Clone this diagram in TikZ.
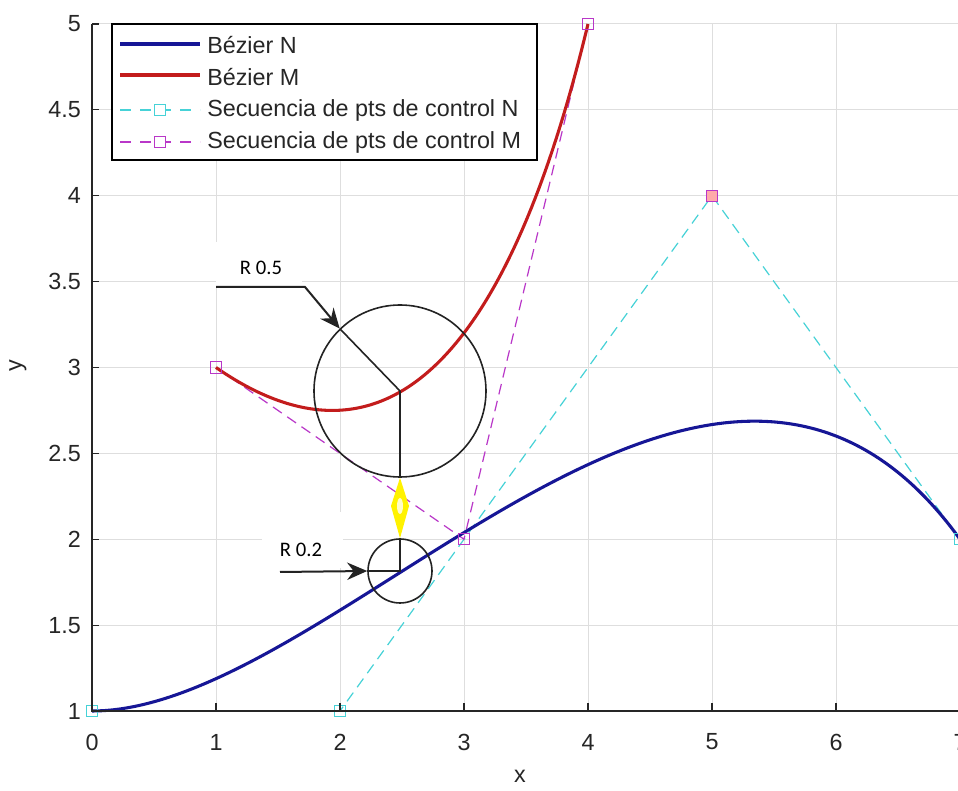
\documentclass[tikz,border=0pt]{standalone}
\usepackage{fontspec}
\setmainfont{Liberation Sans}
\newfontfamily\calib{Carlito}
\usetikzlibrary{arrows.meta}
\definecolor{axgray}{RGB}{38,38,38}
\definecolor{gridgray}{RGB}{222,222,222}
\definecolor{curveN}{RGB}{22,22,150}
\definecolor{curveM}{RGB}{195,28,28}
\definecolor{ctrlN}{RGB}{70,210,215}
\definecolor{ctrlM}{RGB}{185,55,200}
\definecolor{annot}{RGB}{35,35,35}
\tikzset{
  gridline/.style={gridgray, line width=0.75pt},
  ticklab/.style={text=axgray, font=\fontsize{17.5}{20}\selectfont, inner sep=0pt},
  legtext/.style={text=axgray, font=\fontsize{17.5}{20}\selectfont, anchor=west, inner sep=0pt},
  ctrlNline/.style={ctrlN, line width=0.9pt, dash pattern=on 8pt off 5pt},
  ctrlMline/.style={ctrlM, line width=0.9pt, dash pattern=on 8pt off 5pt},
  sqN/.style={draw=ctrlN, line width=0.8pt, minimum size=8.5pt, inner sep=0pt, rectangle},
  sqM/.style={draw=ctrlM, line width=0.8pt, minimum size=8.5pt, inner sep=0pt, rectangle},
  bezN/.style={curveN, line width=2.3pt},
  bezM/.style={curveM, line width=2.3pt},
  annline/.style={annot, line width=1.2pt},
  anncirc/.style={circle, draw=annot, line width=1.2pt, inner sep=0pt},
  annarrow/.style={annot, line width=1.5pt, -{Stealth[length=15pt,width=13pt]}},
  rlab/.style={font=\calib\fontsize{15.5}{18}\selectfont, inner sep=0pt, text=black},
}
\begin{document}
\begin{tikzpicture}[x=0.75pt,y=-0.75pt]
\useasboundingbox (0,0) rectangle (958,791);
\fill[white] (0,0) rectangle (958,791);
\begin{scope}
\clip (0,0) rectangle (958,791);
% ---------- data coordinates ----------
\begin{scope}[xshift=69pt,yshift=-662.0625pt,x=93pt,y=128.8125pt]
  % grid
  \foreach \i in {1,...,7} \draw[gridline] (\i,1) -- (\i,5);
  \foreach \j in {1.5,2,2.5,3,3.5,4,4.5,5} \draw[gridline] (0,\j) -- (7.2,\j);
  % control point markers (named)
  \node[sqN] (n0) at (0,1) {};
  \node[sqN] (n1) at (2,1) {};
  \node[sqN] (n2) at (5,4) {};
  \node[sqN] (n3) at (7,2) {};
  \node[sqM] (m0) at (1,3) {};
  \node[sqM] (m1) at (3,2) {};
  \node[sqM] (m2) at (4,5) {};
  % control polygons
  \draw[ctrlNline] (n0.center) -- (n1.center) -- (n2.center) -- (n3.center);
  \draw[ctrlMline] (m0.center) -- (m1.center) -- (m2.center);
  % Bezier curves
  \draw[bezN] (n0.center) .. controls (n1.center) and (n2.center) .. (n3.center);
  \draw[bezM] (m0.center) .. controls (2.33333,2.33333) and (3.33333,3) .. (m2.center);
  % redraw markers on top
  \node[sqN] at (0,1) {};
  \node[sqN] at (2,1) {};
  \node[draw=ctrlM, line width=0.8pt, minimum size=8.5pt, inner sep=0pt, fill=pink!70!red!70] at (5,4) {};
  \node[sqN] at (7,2) {};
  \node[sqM] at (1,3) {};
  \node[sqM] at (3,2) {};
  \node[sqM] at (4,5) {};
  % axes
  \draw[axgray, line width=0.9pt] (0,5) -- (0,1) -- (7.2,1);
  \foreach \i in {1,...,6} \draw[axgray, line width=0.9pt] (\i,1) -- ++(0,0.045);
  \foreach \j in {1.5,2,2.5,3,3.5,4,4.5,5} \draw[axgray, line width=0.9pt] (0,\j) -- ++(0.06,0);
\end{scope}
% tick labels (pixel coordinates)
\foreach \i in {0,...,7} \node[ticklab] (xt\i) at ({92+124*\i},742) {\i};
\foreach \j/\lab in {1/1,1.5/1.5,2/2,2.5/2.5,3/3,3.5/3.5,4/4,4.5/4.5,5/5}
  \node[ticklab, anchor=east] (yt\lab) at (81,{882.75-171.75*\j}) {\lab};
\node[ticklab] (xlab) at (520,776) {x};
\node[ticklab, rotate=90] (ylab) at (18,366) {y};
% ---------- legend ----------
\draw[black, fill=white, line width=0.8pt] (112,24) rectangle (537,160);
\draw[bezN] (120,44) -- (200,44);
\node[legtext] (l1) at (207,45) {Bézier N};
\draw[bezM] (120,75) -- (200,75);
\node[legtext] (l2) at (207,77) {Bézier M};
\draw[ctrlNline, dash pattern=on 8pt off 7pt] (120,110) -- (200,110);
\node[sqN, fill=white] (ln) at (160,110) {};
\node[legtext] (l3) at (207,110) {Secuencia de pts de control N};
\draw[ctrlMline, dash pattern=on 8pt off 7pt] (120,142) -- (200,142);
\node[sqM, fill=white] (lm) at (160,142) {};
\node[legtext] (l4) at (207,142) {Secuencia de pts de control M};
% ---------- annotations ----------
\node[anncirc, minimum size=129pt] (bigc) at (400,391) {};
\node[anncirc, minimum size=48pt] (smallc) at (400,571) {};
\draw[annline] (bigc.center) -- (bigc.134);
\draw[annline] (bigc.center) -- (bigc.south);
\draw[annline] (smallc.north) -- (smallc.center) -- (smallc.west);
% yellow double arrow
\fill[yellow] (bigc.south) -- (409,506) -- (smallc.north) -- (391,506) -- cycle;
\fill[yellow!20] (400,506) ellipse [x radius=3, y radius=8];
% labels with white boxes
\fill[white] (216,242) rectangle (302,286);
\node[rlab] (r05) at (261,268) {R 0.5};
\coordinate (a1) at (216,287);
\coordinate (a2) at (305,287);
\draw[annarrow] (a1) -- (a2) -- (bigc.134);
\fill[white] (262,512) rectangle (343,568);
\node[rlab] (r02) at (301,550) {R 0.2};
\coordinate (a3) at (280,572);
\draw[annarrow] (a3) -- (smallc.west);
\end{scope}
\end{tikzpicture}
\end{document}
